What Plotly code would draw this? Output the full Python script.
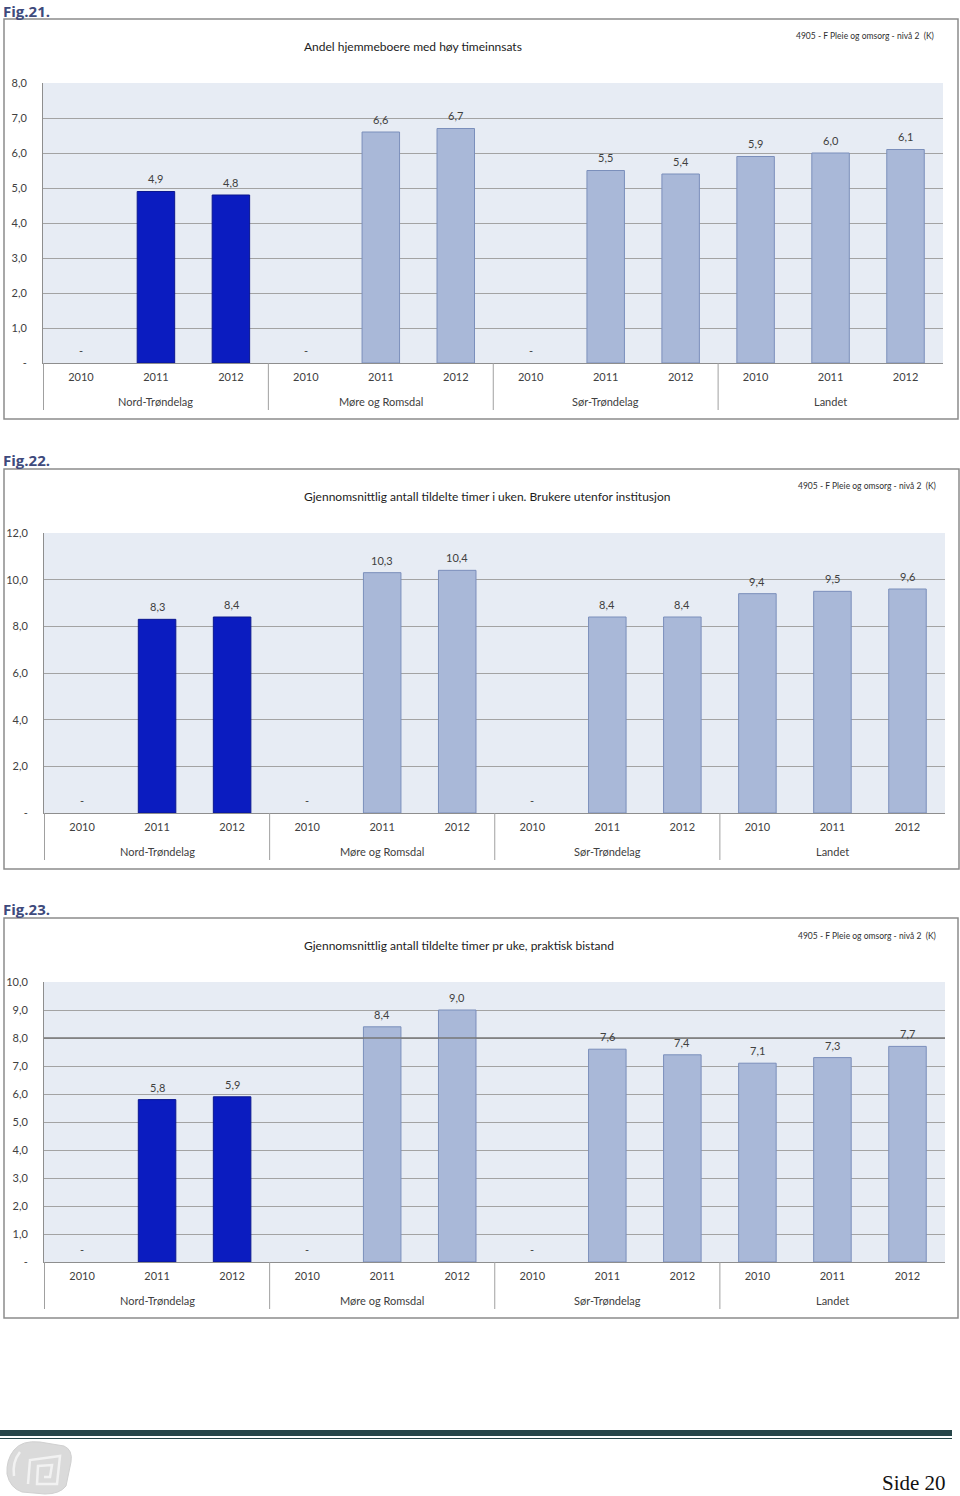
import plotly.graph_objects as go

W, H = 960, 1496

regions = ["Nord-Trøndelag", "Møre og Romsdal", "Sør-Trøndelag", "Landet"]
years = ["2010", "2011", "2012"]

fig_labels = ["Fig.21.", "Fig.22.", "Fig.23."]
titles = [
    "Andel hjemmeboere med høy timeinnsats",
    "Gjennomsnittlig antall tildelte timer i uken. Brukere utenfor institusjon",
    "Gjennomsnittlig antall tildelte timer pr uke, praktisk bistand",
]
source_note = "4905 - F Pleie og omsorg - nivå 2  (K)"

# values per region, years 2010-2012 (0 shown as "-")
fig21_nord = [0, 4.9, 4.8]
fig21_more = [0, 6.6, 6.7]
fig21_sor = [0, 5.5, 5.4]
fig21_landet = [5.9, 6.0, 6.1]

fig22_nord = [0, 8.3, 8.4]
fig22_more = [0, 10.3, 10.4]
fig22_sor = [0, 8.4, 8.4]
fig22_landet = [9.4, 9.5, 9.6]

fig23_nord = [0, 5.8, 5.9]
fig23_more = [0, 8.4, 9.0]
fig23_sor = [0, 7.6, 7.4]
fig23_landet = [7.1, 7.3, 7.7]

y_max = [8, 12, 10]
y_step = [1, 2, 1]

datasets = [
    [fig21_nord, fig21_more, fig21_sor, fig21_landet],
    [fig22_nord, fig22_more, fig22_sor, fig22_landet],
    [fig23_nord, fig23_more, fig23_sor, fig23_landet],
]

# layout geometry (pixels)
boxes = [(4, 19, 958, 419), (4, 469, 959, 869), (4, 918, 958, 1318)]
plots = [(43, 83, 943, 363), (44, 533, 945, 813), (44, 982, 945, 1262)]
fig_label_top = [-1, 449, 898]
title_pos = [(302, 47), (302, 496), (302, 945)]
note_pos = [(936, 36), (938, 486), (938, 936)]

FONT = "Lato, 'Open Sans', sans-serif"
TXT = "#404040"
DARK = "#0b1cc0"
DARK_LINE = "#0a168f"
LIGHT = "#a9b8d8"
LIGHT_LINE = "#7b8fbb"
BG = "#e7ecf4"
GRID = "#a3a3a3"
FIGCOL = "#3e4a7c"


def px_x(x):
    return x / W


def px_y(y):
    return 1 - y / H


def fmt(v):
    return "-" if v == 0 else f"{v:.1f}".replace(".", ",")


fig = go.Figure()
shapes = []
annotations = []

for k in range(3):
    xa = "x" if k == 0 else f"x{k+1}"
    ya = "y" if k == 0 else f"y{k+1}"
    cats, vals, cols, lcols, lw = [], [], [], [], []
    for r, reg in enumerate(regions):
        for i, yr in enumerate(years):
            cat = f"{reg} {yr}"
            cats.append(cat)
            v = datasets[k][r][i]
            vals.append(v)
            cols.append(DARK if r == 0 else LIGHT)
            lcols.append(DARK_LINE if r == 0 else LIGHT_LINE)
            lw.append(0 if v == 0 else 1)
            # value label above the bar
            annotations.append(dict(text=fmt(v), xref=xa, yref=ya, x=cat, y=v,
                                    yanchor="bottom", yshift=4, showarrow=False,
                                    font=dict(family=FONT, size=11, color=TXT)))
    fig.add_trace(go.Bar(
        x=cats, y=vals,
        marker=dict(color=cols, line=dict(color=lcols, width=lw)),
        width=0.5, showlegend=False,
        xaxis=xa, yaxis=ya, hoverinfo="skip",
    ))
    x0, y0, x1, y1 = plots[k]
    tickvals = list(range(0, y_max[k] + 1, y_step[k]))
    ticktext = ["-" if t == 0 else f"{t:.1f}".replace(".", ",") for t in tickvals]
    fig.layout[("xaxis" if k == 0 else f"xaxis{k+1}")] = dict(
        domain=[px_x(x0), px_x(x1)], anchor=ya, type="category",
        categoryorder="array", categoryarray=cats,
        tickvals=cats, ticktext=[c.split(" ")[-1] for c in cats],
        tickfont=dict(family=FONT, size=11, color=TXT),
        showline=True, linecolor="#8e8e8e", linewidth=1,
        ticks="outside", ticklen=0, ticklabelstandoff=4,
        showgrid=False, zeroline=False, fixedrange=True, automargin=False,
    )
    fig.layout[("yaxis" if k == 0 else f"yaxis{k+1}")] = dict(
        domain=[px_y(y1), px_y(y0)], anchor=xa,
        range=[0, y_max[k]], tickvals=tickvals, ticktext=ticktext,
        tickfont=dict(family=FONT, size=11, color=TXT),
        showgrid=True, gridcolor=GRID, gridwidth=1,
        showline=True, linecolor="#8e8e8e", linewidth=1,
        ticks="outside", ticklen=0, ticklabelstandoff=13,
        zeroline=False, fixedrange=True, automargin=False,
    )
    # plot background
    shapes.append(dict(type="rect", xref=f"{xa} domain", yref=f"{ya} domain",
                       x0=0, x1=1, y0=0, y1=1, fillcolor=BG,
                       line=dict(width=0), layer="below"))
    # outer chart box
    bx0, by0, bx1, by1 = boxes[k]
    shapes.append(dict(type="rect", xref="paper", yref="paper",
                       x0=px_x(bx0), x1=px_x(bx1), y0=px_y(by1), y1=px_y(by0),
                       line=dict(color="#8c8c8c", width=1.5)))
    # group dividers and group labels
    for r, reg in enumerate(regions):
        shapes.append(dict(type="line", xref=xa, yref=f"{ya} domain",
                           ysizemode="pixel", yanchor=0,
                           x0=r * len(years) - 0.5, x1=r * len(years) - 0.5,
                           y0=0, y1=-47,
                           line=dict(color="#a0a0a0", width=1)))
        annotations.append(dict(text=reg, xref=xa, yref=f"{ya} domain",
                                x=f"{reg} {years[1]}", y=0, yshift=-38,
                                yanchor="middle", showarrow=False,
                                font=dict(family=FONT, size=11, color=TXT)))
    # figure label
    annotations.append(dict(text=f"<b>{fig_labels[k]}</b>", xref="paper", yref="paper",
                            x=px_x(2), y=min(1.0, px_y(fig_label_top[k])), xanchor="left",
                            yanchor="top", showarrow=False, borderpad=0,
                            font=dict(family="'Open Sans', sans-serif", size=15, color=FIGCOL)))
    tx, ty = title_pos[k]
    annotations.append(dict(text=titles[k], xref="paper", yref="paper",
                            x=px_x(tx), y=px_y(ty), xanchor="left", yanchor="middle",
                            showarrow=False,
                            font=dict(family=FONT, size=12, color="#1c1c1c")))
    nx, ny = note_pos[k]
    annotations.append(dict(text=source_note, xref="paper", yref="paper",
                            x=px_x(nx), y=px_y(ny), xanchor="right", yanchor="middle",
                            showarrow=False,
                            font=dict(family=FONT, size=8.5, color="#303030")))

# darker 8,0 reference line in Fig.23
shapes.append(dict(type="line", xref="x3 domain", yref="y3", x0=0, x1=1, y0=8, y1=8,
                   line=dict(color="#777777", width=1.3)))

# footer
shapes.append(dict(type="rect", xref="paper", yref="paper",
                   x0=0, x1=px_x(952), y0=px_y(1436), y1=px_y(1430),
                   fillcolor="#274549", line=dict(width=0)))
shapes.append(dict(type="line", xref="paper", yref="paper",
                   x0=0, x1=px_x(952), y0=px_y(1438.5), y1=px_y(1438.5),
                   line=dict(color="#274549", width=1)))


def P(x, y):
    return f"{px_x(x)},{px_y(y)}"


# logo (decorative grey spiral)
shapes.append(dict(type="path", xref="paper", yref="paper",
                   path=(f"M {P(14,1450)} Q {P(22,1440)} {P(40,1442)} "
                         f"L {P(64,1446)} Q {P(73,1450)} {P(71,1462)} "
                         f"L {P(66,1486)} Q {P(60,1494)} {P(45,1494)} "
                         f"L {P(22,1492)} Q {P(10,1488)} {P(7,1474)} "
                         f"Q {P(6,1460)} {P(14,1450)} Z"),
                   fillcolor="#dadada", line=dict(color="#d0d0d0", width=1)))
shapes.append(dict(type="path", xref="paper", yref="paper",
                   path=(f"M {P(20,1452)} Q {P(12,1462)} {P(14,1476)} "
                         f"M {P(28,1484)} L {P(30,1460)} L {P(60,1456)} L {P(57,1484)} "
                         f"L {P(37,1484)} L {P(38,1466)} L {P(52,1465)} L {P(50,1477)} L {P(44,1477)}"),
                   line=dict(color="#f2f2f2", width=2.5)))
annotations.append(dict(text="Side 20", xref="paper", yref="paper",
                        x=px_x(947), y=0, xanchor="right", yanchor="bottom",
                        showarrow=False, borderpad=0,
                        font=dict(family="'Liberation Serif', 'DejaVu Serif', serif",
                                  size=21, color="#111111")))

fig.update_layout(
    width=W, height=H, margin=dict(l=0, r=0, t=0, b=0, pad=0, autoexpand=False),
    paper_bgcolor="white", plot_bgcolor="rgba(0,0,0,0)",
    shapes=shapes, annotations=annotations, bargap=0.5,
    font=dict(family=FONT), showlegend=False,
)

fig.write_html("out.html", config={"displayModeBar": False},
               post_script="document.body.style.margin='0';document.body.style.padding='0';document.body.style.overflow='hidden';")
